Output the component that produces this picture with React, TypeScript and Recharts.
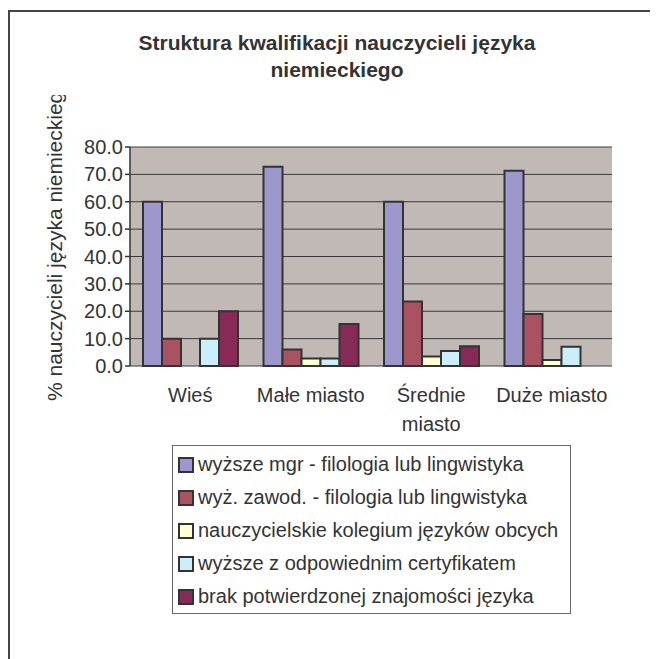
import React from "react";
import { BarChart, Bar, XAxis, YAxis, CartesianGrid, Legend, Text } from "recharts";

const categories = ["Wieś", "Małe miasto", "Średnie miasto", "Duże miasto"];
const mgr = [60.0, 72.8, 60.0, 71.3];
const zawod = [10.0, 6.0, 23.6, 19.0];
const kolegium = [0.0, 2.7, 3.5, 2.2];
const certyfikat = [10.0, 2.7, 5.5, 7.0];
const brak = [20.0, 15.3, 7.2, 0.0];
const yTicks = [0, 10, 20, 30, 40, 50, 60, 70, 80];
const boundaryTicks = [0, 1, 2, 3, 4];

const series = [
  { key: "mgr", name: "wyższe mgr - filologia lub lingwistyka", color: "#9C98CC" },
  { key: "zawod", name: "wyż. zawod. - filologia lub lingwistyka", color: "#A85262" },
  { key: "kolegium", name: "nauczycielskie kolegium języków obcych", color: "#FFFFD2" },
  { key: "certyfikat", name: "wyższe z odpowiednim certyfikatem", color: "#CCEEFB" },
  { key: "brak", name: "brak potwierdzonej znajomości języka", color: "#872A56" },
];

const data = categories.map((c, i) => ({
  name: c,
  mgr: mgr[i],
  zawod: zawod[i],
  kolegium: kolegium[i],
  certyfikat: certyfikat[i],
  brak: brak[i],
}));

const FONT = "Arial, 'Liberation Sans', sans-serif";
const INK = "#333333";

const CategoryTick = (props: any) => {
  const { x, y, payload } = props;
  return (
    <Text
      x={x}
      y={y + 14}
      width={120}
      textAnchor="middle"
      verticalAnchor="start"
      lineHeight={29}
      style={{ fontSize: "20px", fontFamily: FONT }}
      fontSize={20}
      fontFamily={FONT}
      fill={INK}
    >
      {payload.value}
    </Text>
  );
};

const LegendBox = () => (
  <div
    style={{
      width: 397,
      height: 165,
      border: "1px solid #666",
      background: "#fff",
      boxSizing: "content-box",
      paddingTop: 2,
      fontFamily: FONT,
      fontSize: 20,
      color: INK,
    }}
  >
    {series.map((s) => (
      <div key={s.key} style={{ height: 33, display: "flex", alignItems: "center", whiteSpace: "nowrap" }}>
        <span
          style={{
            display: "inline-block",
            width: 12,
            height: 12,
            marginLeft: 5,
            marginRight: 4,
            background: s.color,
            border: "2px solid #333",
          }}
        />
        <span>{s.name}</span>
      </div>
    ))}
  </div>
);

export default function App() {
  return (
    <div style={{ position: "relative", width: 650, height: 651, background: "#fff" }}>
      <div
        style={{
          position: "absolute",
          left: 0,
          top: 2,
          width: 650,
          height: 649,
          borderTop: "2px solid #444",
          borderLeft: "2px solid #444",
          boxSizing: "border-box",
        }}
      />
      <div
        style={{
          position: "absolute",
          left: 119,
          top: 21,
          width: 420,
          textAlign: "center",
          fontFamily: FONT,
          fontWeight: "bold",
          fontSize: 21,
          lineHeight: "27px",
          color: INK,
        }}
      >
        Struktura kwalifikacji nauczycieli języka niemieckiego
      </div>
      <div
        style={{
          position: "absolute",
          left: 27,
          top: 87,
          width: 40,
          height: 320,
          overflow: "hidden",
        }}
      >
        <div
          style={{
            position: "absolute",
            left: 8,
            top: 306,
            whiteSpace: "nowrap",
            transformOrigin: "left top",
            transform: "rotate(-90deg)",
            fontFamily: FONT,
            fontSize: 21,
            lineHeight: "23px",
            color: INK,
          }}
        >
          % nauczycieli języka niemieckiego
        </div>
      </div>
      <div style={{ position: "absolute", left: 0, top: 0 }}>
        <BarChart
          width={650}
          height={651}
          data={data}
          margin={{ top: 139, right: 46, left: 0, bottom: 233 }}
          barCategoryGap={13}
          barGap={0}
        >
          <CartesianGrid
            vertical={false}
            stroke="#3a3a3a"
            fill="#C1B9B6"
            fillOpacity={1}
          />
          <XAxis
            xAxisId="edge"
            type="number"
            domain={[0, 4]}
            ticks={boundaryTicks}
            height={0}
            tick={false}
            tickSize={6}
            axisLine={{ stroke: "#333", strokeWidth: 1.5 }}
            tickLine={{ stroke: "#333", strokeWidth: 1.5 }}
          />
          <XAxis
            xAxisId="cat"
            dataKey="name"
            height={60}
            axisLine={false}
            tickLine={false}
            tick={<CategoryTick />}
            interval={0}
          />
          <YAxis
            width={122}
            domain={[0, 80]}
            ticks={yTicks}
            interval={0}
            tickFormatter={(v: number) => v.toFixed(1)}
            tick={{ fontSize: 20, fontFamily: FONT, fill: INK }}
            tickSize={5}
            axisLine={{ stroke: "#333", strokeWidth: 1.5 }}
            tickLine={{ stroke: "#333", strokeWidth: 1.5 }}
          />
          <Legend
            layout="vertical"
            align="center"
            verticalAlign="middle"
            wrapperStyle={{ left: 164, top: 437, width: 400 }}
            content={() => <LegendBox />}
          />
          {series.map((s) => (
            <Bar
              key={s.key}
              xAxisId="cat"
              dataKey={s.key}
              name={s.name}
              fill={s.color}
              stroke="#333"
              strokeWidth={2}
              isAnimationActive={false}
            />
          ))}
        </BarChart>
      </div>
    </div>
  );
}
